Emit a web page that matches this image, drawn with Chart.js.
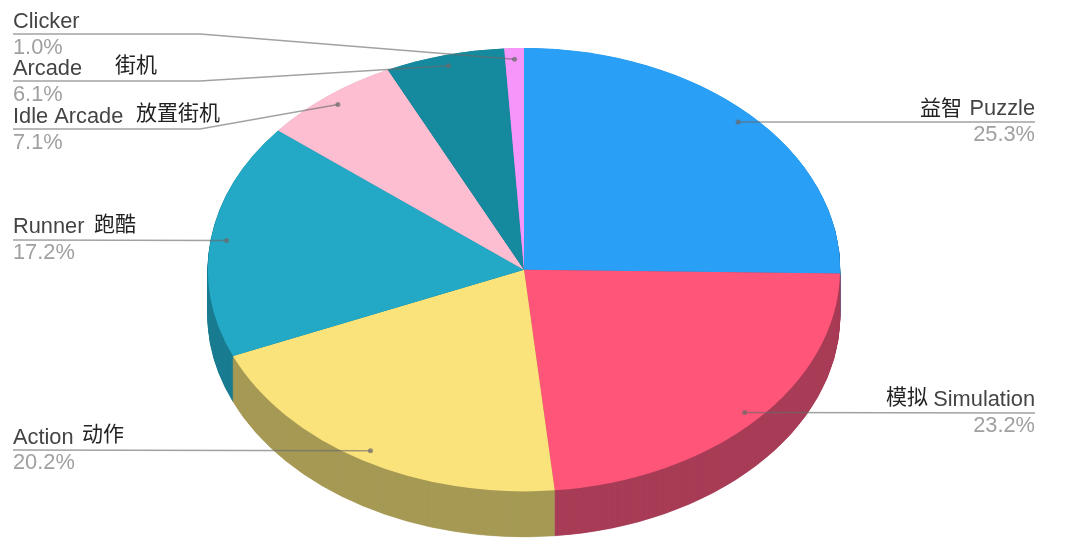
<!DOCTYPE html>
<html>
<head>
<meta charset="utf-8">
<style>
  html, body { margin: 0; padding: 0; background: #fff; }
  canvas { display: block; }
</style>
<script src="https://cdn.jsdelivr.net/npm/chart.js"></script>
</head>
<body>
<canvas id="pie" width="1080" height="553"></canvas>
<script>
// clockwise from 12 o'clock
const categories = ["Puzzle", "Simulation", "Action", "Runner", "Idle Arcade", "Arcade", "Clicker"];
const categoriesCn = ["益智", "模拟", "动作", "跑酷", "放置街机", "街机", ""];
const shares = [25.3, 23.2, 20.2, 17.2, 7.1, 6.1, 1.0];

const topColors = ["#299ff5", "#fe5578", "#fbe37b", "#23a9c5", "#fdbed2", "#158a9f", "#f696fb"];
const sideColors = ["#1f77b8", "#a83d57", "#a69a55", "#1a7c91", "#be8e9e", "#106777", "#b870bc"];

// the tilted disc on the page
const DISC = { cx: 524, cy: 269.7, rx: 316, ry: 221.7, depth: 45.5 };
const ANCHOR_R = 0.95;

// label layout: text side, left/right edge, baseline of name, rule y, baseline of percent, elbow x, cn text x and baseline
const labelLayout = [
  { align: "right", x: 1035, name: 115, rule: 122, pct: 141, cnX: 920, cnY: 115 },
  { align: "right", x: 1035, name: 406, rule: 413, pct: 432, cnX: 886, cnY: 404 },
  { align: "left", x: 13, name: 444, rule: 450, pct: 469, cnX: 82, cnY: 441 },
  { align: "left", x: 13, name: 233, rule: 240, pct: 259, cnX: 94, cnY: 231 },
  { align: "left", x: 13, name: 123, rule: 129, pct: 149, elbow: 200, cnX: 136, cnY: 120 },
  { align: "left", x: 13, name: 75, rule: 81, pct: 101, elbow: 200, cnX: 115, cnY: 72 },
  { align: "left", x: 13, name: 28, rule: 34, pct: 54, elbow: 200, cnX: 0, cnY: 0 },
];

function applyDiscTransform(ctx, arc, drop) {
  const r = arc.outerRadius;
  ctx.translate(DISC.cx, DISC.cy + drop);
  ctx.scale(DISC.rx / r, DISC.ry / r);
  ctx.translate(-arc.x, -arc.y);
}

const discPlugin = {
  id: "disc",
  beforeDatasetDraw(chart) {
    const ctx = chart.ctx;
    const arcs = chart.getDatasetMeta(0).data;
    // side wall: stack of darker copies, deepest first
    for (let d = DISC.depth; d > 0; d -= 0.5) {
      arcs.forEach((arc, i) => {
        const keep = arc.options;
        arc.options = Object.assign({}, keep, { backgroundColor: sideColors[i], borderColor: sideColors[i], borderWidth: 0.5 });
        ctx.save();
        applyDiscTransform(ctx, arc, d);
        arc.draw(ctx);
        ctx.restore();
        arc.options = keep;
      });
    }
    ctx.save();
    applyDiscTransform(ctx, arcs[0], 0);
  },
  afterDatasetDraw(chart) {
    chart.ctx.restore();
  },
  afterDraw(chart) {
    const ctx = chart.ctx;
    chart.getDatasetMeta(0).data.forEach((arc, i) => {
      const l = labelLayout[i];
      const mid = (arc.startAngle + arc.endAngle) / 2;
      const ax = DISC.cx + Math.cos(mid) * DISC.rx * ANCHOR_R;
      const ay = DISC.cy + Math.sin(mid) * DISC.ry * ANCHOR_R;

      ctx.save();
      ctx.strokeStyle = "rgba(105,105,105,0.62)";
      ctx.fillStyle = "rgba(105,105,105,0.7)";
      ctx.lineWidth = 1.5;
      ctx.beginPath();
      ctx.moveTo(l.x, l.rule);
      if (l.elbow) ctx.lineTo(l.elbow, l.rule);
      ctx.lineTo(ax, ay);
      ctx.stroke();
      ctx.beginPath();
      ctx.arc(ax, ay, 2.5, 0, Math.PI * 2);
      ctx.fill();

      ctx.textAlign = l.align;
      ctx.textBaseline = "alphabetic";
      ctx.font = '21.8px "Liberation Sans"';
      ctx.fillStyle = "#444444";
      ctx.fillText(categories[i], l.x, l.name);
      ctx.fillStyle = "#a0a0a0";
      ctx.fillText(shares[i].toFixed(1) + "%", l.x, l.pct);
      if (categoriesCn[i]) {
        ctx.textAlign = "left";
        ctx.font = '21px "Noto Sans CJK SC"';
        ctx.fillStyle = "#222222";
        ctx.fillText(categoriesCn[i], l.cnX, l.cnY);
      }
      ctx.restore();
    });
  },
};

new Chart(document.getElementById("pie"), {
  type: "pie",
  data: {
    labels: categories,
    datasets: [{ data: shares, backgroundColor: topColors, borderWidth: 0 }],
  },
  options: {
    responsive: false,
    animation: false,
    plugins: {
      legend: { display: false },
      tooltip: { enabled: false },
    },
  },
  plugins: [discPlugin],
});
</script>
</body>
</html>
